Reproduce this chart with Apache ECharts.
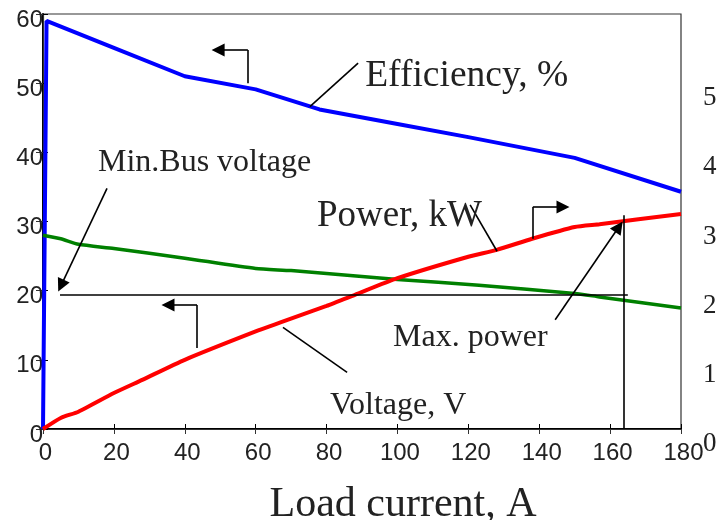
<!DOCTYPE html>
<html>
<head>
<meta charset="utf-8">
<script src="https://cdn.jsdelivr.net/npm/echarts/dist/echarts.min.js"></script>
<style>html,body{margin:0;padding:0;background:#fff}#c{width:717px;height:520px}</style>
</head>
<body>
<div id="c"></div>
<script>
// Load current, A
const effCurrent = [0, 1, 20, 40, 60, 78, 100, 120, 150, 180];
const effValues  = [0, 59, 55.1, 51, 49.1, 46.2, 44.1, 42.2, 39.2, 34.3];   // Efficiency, %
const voltCurrent = [0, 5, 10, 20, 40, 60, 70, 100, 123, 150, 157, 180];
const voltValues  = [28, 27.5, 26.7, 26.1, 24.7, 23.2, 22.9, 21.6, 20.8, 19.6, 19.1, 17.5]; // Voltage, V
const powCurrent = [0, 5, 10, 20, 28, 40, 60, 67, 80, 88, 100, 120, 128, 138, 150, 157, 180];
const powValues  = [0, 0.16, 0.25, 0.52, 0.71, 1.0, 1.41, 1.54, 1.78, 1.94, 2.18, 2.49, 2.59, 2.75, 2.92, 2.96, 3.11]; // Power, kW
const xTicks = [0, 20, 40, 60, 80, 100, 120, 140, 160, 180];
const leftTicks = [0, 10, 20, 30, 40, 50, 60];
const rightTicks = [0, 1, 2, 3, 4, 5];
const minBusVoltage = 19.37;
const maxPowerCurrent = 163.9;

const pairs = (xs, ys) => xs.map((x, i) => [x, ys[i]]);
const serif = 'Liberation Serif';
const sans = 'Liberation Sans';

function seg(a, b, arrowEnd) {
  return [
    { coord: a, symbol: 'none' },
    { coord: b, symbol: arrowEnd ? 'triangle' : 'none', symbolSize: 13 }
  ];
}

const annotations = [
  seg([57.8, 50.0], [57.8, 54.8]),
  seg([57.8, 54.8], [49.4, 54.8], true),
  seg([75.3, 46.6], [88.9, 52.9]),
  seg([18.06, 34.8], [5.08, 20.72], true),
  seg([4.8, minBusVoltage], [165, minBusVoltage]),
  seg([43.45, 11.7], [43.45, 17.93]),
  seg([43.45, 17.93], [35.27, 17.93], true),
  seg([120.5, 32.4], [128.1, 25.7]),
  seg([138.2, 27.5], [138.2, 32.1]),
  seg([138.2, 32.1], [146.7, 32.1], true),
  seg([144.5, 15.8], [162.5, 29.23], true),
  seg([maxPowerCurrent, 0], [maxPowerCurrent, 30.9]),
  seg([67.7, 14.7], [85.8, 8.2])
];

const chart = echarts.init(document.getElementById('c'), null, { renderer: 'canvas' });
const option = {
  animation: false,
  backgroundColor: '#fff',
  grid: { left: 43, right: 36, top: 14, bottom: 91, show: true, borderColor: '#333', borderWidth: 1.2,
    containLabel: false, outerBoundsMode: 'none' },
  xAxis: [{
    type: 'value', min: 0, max: 180, interval: 20, position: 'bottom',
    axisLine: { show: true, lineStyle: { color: '#000', width: 2 } },
    axisTick: { show: true, inside: true, length: 5, lineStyle: { color: '#000', width: 1 } },
    splitLine: { show: false },
    axisLabel: { color: '#222', fontFamily: sans, fontSize: 24, margin: 12, padding: [0, 0, 0, 5],
      formatter: v => xTicks.includes(v) ? String(v) : '' },
    name: 'Load current, A', nameLocation: 'middle', nameGap: 55,
    nameTextStyle: { fontFamily: serif, fontSize: 42, color: '#222', padding: [0, 0, 0, 82] }
  }, {
    type: 'value', min: 0, max: 180, interval: 20, position: 'top',
    axisLine: { show: true, lineStyle: { color: '#333', width: 1.2 } },
    axisTick: { show: true, inside: true, length: 5, lineStyle: { color: '#333', width: 1 } },
    axisLabel: { show: false }, splitLine: { show: false }
  }],
  yAxis: [{
    type: 'value', min: 0, max: 60, interval: 10, position: 'left',
    axisLine: { show: true, lineStyle: { color: '#000', width: 2 } },
    axisTick: { show: true, inside: true, length: 5, lineStyle: { color: '#000', width: 1 } },
    splitLine: { show: false },
    axisLabel: { color: '#222', fontFamily: sans, fontSize: 24, margin: 0,
      verticalAlign: 'top', lineHeight: 12,
      formatter: v => leftTicks.includes(v) ? String(v) : '' }
  }, {
    type: 'value', min: 0, max: 6, interval: 1, position: 'right',
    axisLine: { show: true, lineStyle: { color: '#333', width: 1.2 } },
    axisTick: { show: true, inside: true, length: 7, lineStyle: { color: '#333', width: 1 } },
    splitLine: { show: false },
    axisLabel: { color: '#222', fontFamily: serif, fontSize: 27, margin: 22,
      verticalAlign: 'top', lineHeight: 30,
      formatter: v => rightTicks.includes(v) ? String(v) : '' }
  }],
  series: [{
    name: 'Efficiency, %', type: 'line', xAxisIndex: 0, yAxisIndex: 0,
    data: pairs(effCurrent, effValues), showSymbol: false, symbol: 'none',
    lineStyle: { color: '#0000ff', width: 4 }, z: 3
  }, {
    name: 'Voltage, V', type: 'line', xAxisIndex: 0, yAxisIndex: 0,
    data: pairs(voltCurrent, voltValues), showSymbol: false, symbol: 'none', smooth: 0.2,
    lineStyle: { color: '#008000', width: 3.5 }, z: 3,
    markLine: {
      silent: true, animation: false, symbolSize: 13,
      label: { show: false }, emphasis: { disabled: true },
      lineStyle: { color: '#000', width: 1.6, type: 'solid' },
      itemStyle: { color: '#000' },
      data: annotations
    }
  }, {
    name: 'Power, kW', type: 'line', xAxisIndex: 0, yAxisIndex: 1,
    data: pairs(powCurrent, powValues), showSymbol: false, symbol: 'none', smooth: 0.2,
    lineStyle: { color: '#ff0000', width: 4 }, z: 4
  }]
};
chart.setOption(option);

// text anchors: left edge and baseline, in data coordinates of the left axis
const texts = [
  { t: 'Efficiency, %', at: [90.9, 49.45], size: 37.5 },
  { t: 'Power, kW', at: [77.3, 29.2], size: 37 },
  { t: 'Min.Bus voltage', at: [15.5, 37.16], size: 32 },
  { t: 'Max. power', at: [98.75, 11.86], size: 32 },
  { t: 'Voltage, V', at: [81.0, 2.02], size: 32 }
];
const graphic = texts.map(o => {
  const p = chart.convertToPixel({ xAxisIndex: 0, yAxisIndex: 0 }, o.at);
  return {
    type: 'text', x: p[0], y: p[1] + 0.216 * o.size, z: 10,
    style: { text: o.t, fontFamily: serif, fontSize: o.size, fill: '#222',
      textAlign: 'left', textVerticalAlign: 'bottom' }
  };
});
chart.setOption({ graphic });
</script>
</body>
</html>
